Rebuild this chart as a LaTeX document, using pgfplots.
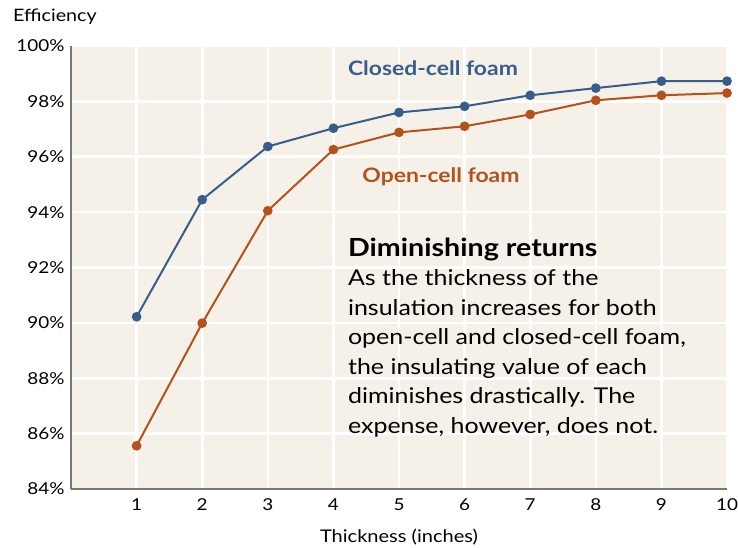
\documentclass[border=0pt]{standalone}
\usepackage{fontspec}
\setmainfont{Lato}
\newfontfamily\wide[FakeStretch=1.15]{Lato}
\usepackage{pgfplots}
\pgfplotsset{compat=1.18}
\definecolor{bgc}{HTML}{F5F1E9}
\definecolor{blueL}{HTML}{375D8B}
\definecolor{orangeL}{HTML}{B5521B}
\definecolor{axc}{HTML}{7A7670}
\begin{document}
\begin{tikzpicture}[x=1bp,y=1bp]
\path[use as bounding box] (0,0) rectangle (738,-548);
\begin{axis}[
  at={(71bp,-489bp)}, anchor=south west,
  scale only axis, width=656bp, height=443bp,
  xmin=0, xmax=10, ymin=84, ymax=100,
  xtick={1,...,10}, ytick={84,86,...,100},
  yticklabel={\pgfmathprintnumber{\tick}\%},
  /pgf/number format/assume math mode=true,
  axis background/.style={fill=bgc},
  grid=major, major grid style={white, line width=2.6bp},
  axis x line*=bottom, axis y line*=left,
  axis line style={axc, line width=1.4bp, -},
  major tick length=0,
  tick label style={font=\wide\fontsize{16.5}{20}\selectfont, black},
  xticklabel style={yshift=-6bp},
  yticklabel style={xshift=-3bp},
  xlabel={Thickness (inches)},
  xlabel style={font=\wide\fontsize{17.5}{20}\selectfont, yshift=-12bp},
  clip=false,
]
\addplot[blueL, line width=2bp, mark=*, mark size=3.8bp, mark options={fill=blueL, draw=none}] coordinates {
(1,90.22) (2,94.45) (3,96.37) (4,97.03) (5,97.6) (6,97.82) (7,98.22) (8,98.48) (9,98.73) (10,98.73)};
\addplot[orangeL, line width=2bp, mark=*, mark size=3.8bp, mark options={fill=orangeL, draw=none}] coordinates {
(1,85.56) (2,89.99) (3,94.05) (4,96.26) (5,96.88) (6,97.1) (7,97.53) (8,98.04) (9,98.22) (10,98.3)};
\node[anchor=west, inner sep=0, text=blueL, font=\wide\fontsize{20}{22}\selectfont\bfseries] at (axis cs:4.22,99.2) {Closed-cell foam};
\node[anchor=west, inner sep=0, text=orangeL, font=\wide\fontsize{20}{22}\selectfont\bfseries] at (axis cs:4.44,95.27) {Open-cell foam};
\node[anchor=north west, inner sep=0, align=left, font=\wide\fontsize{21.8}{29.6}\selectfont] at (axis cs:4.22,93.08) {{\bfseries\fontsize{25}{29.6}\selectfont Diminishing returns}\\As the thickness of the\\insulation increases for both\\open-cell and closed-cell foam,\\the insulating value of each\\diminishes drastically. The\\expense, however, does not.};
\end{axis}
\node[anchor=west, inner sep=0, font=\wide\fontsize{17.2}{19}\selectfont] at (13,-17) {Efficiency};
\end{tikzpicture}
\end{document}
